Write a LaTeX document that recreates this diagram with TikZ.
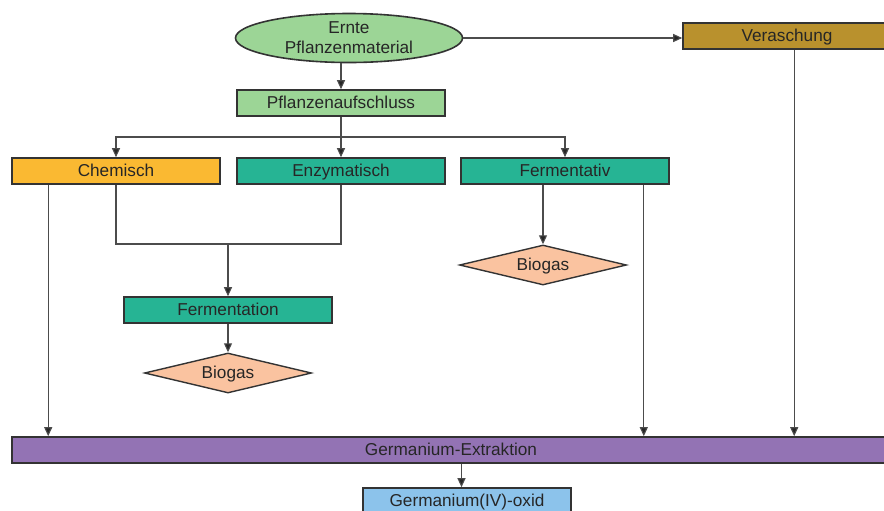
\documentclass[tikz,border=0pt]{standalone}
\usepackage{fontspec}
\setmainfont{Liberation Sans}
\usetikzlibrary{shapes.geometric,arrows.meta}
\definecolor{hellgruen}{RGB}{156,213,150}
\definecolor{orange}{RGB}{250,185,50}
\definecolor{tuerkis}{RGB}{38,180,148}
\definecolor{ocker}{RGB}{185,145,45}
\definecolor{lila}{RGB}{147,115,180}
\definecolor{hellblau}{RGB}{140,195,235}
\definecolor{pfirsich}{RGB}{250,195,160}
\begin{document}
\begin{tikzpicture}[x=0.5pt, y=-0.5pt,
        font=\fontsize{8.6}{10}\selectfont, text=black!85,
        >={Triangle[length=4.5pt,width=4pt,fill=black!85]},
        line/.style = {draw=black!70, line width=0.55pt},
        box/.style = {draw=black!80, line width=0.8pt, minimum width=104pt, minimum height=13pt, inner sep=0pt, text height=6.2pt, text depth=0.3pt},
        bio/.style = {diamond, draw=black!80, line width=0.7pt, fill=pfirsich, minimum width=83.5pt, minimum height=20pt, aspect=4, inner sep=0pt, text height=6.2pt, text depth=0.3pt}]
    \clip (0,0) rectangle (884,510);
    \useasboundingbox (0,0) rectangle (884,510);
    \node[ellipse, draw=black!80, line width=0.8pt, fill=hellgruen, minimum width=113.5pt, minimum height=24.5pt, inner sep=0pt, align=center] (ernte) at (349,38) {Ernte\\Pflanzenmaterial};
    \node[box, fill=hellgruen] (auf) at (341,103) {Pflanzenaufschluss};
    \node[box, fill=ocker] (vera) at (787,36) {Veraschung};
    \node[box, fill=orange] (chem) at (116,171) {Chemisch};
    \node[box, fill=tuerkis] (enz) at (341,171) {Enzymatisch};
    \node[box, fill=tuerkis] (ferm) at (565,171) {Fermentativ};
    \node[box, fill=tuerkis] (fmt) at (228,310) {Fermentation};
    \node[bio] (bio1) at (228,373) {Biogas};
    \node[bio] (bio2) at (543,265) {Biogas};
    \node[box, fill=lila, minimum width=439pt] (extr) at (451,450) {Germanium-Extraktion};
    \node[box, fill=hellblau] (oxid) at (467,501) {Germanium(IV)-oxid};
    \coordinate (split) at (341,137);
    \coordinate (join) at (228,244);
    % Aufschluss und Verzweigung
    \draw[line,->] (auf.north |- ernte.south) -- (auf);
    \draw[line,->] (ernte) -- (vera.west |- ernte);
    \draw[line] (auf) -- (split);
    \draw[line,->] (split) -| (chem);
    \draw[line,->] (split) -- (enz);
    \draw[line,->] (split) -| (ferm);
    % Fermentation
    \draw[line] (chem) |- (join);
    \draw[line] (enz) |- (join);
    \draw[line,->] (join) -- (fmt);
    \draw[line,->] (fmt) -- (bio1);
    \draw[line,->] ([xshift=-11pt]ferm.south) -- (bio2);
    % Extraktion
    \draw[line,->] ([xshift=18.5pt]chem.south west) -- ([xshift=18.5pt]chem.south west |- extr.north);
    \draw[line,->] ([xshift=-13pt]ferm.south east) -- ([xshift=-13pt]ferm.south east |- extr.north);
    \draw[line,->] ([xshift=56pt]vera.south west) -- ([xshift=56pt]vera.south west |- extr.north);
    \draw[line,->] ([xshift=-2.75pt]oxid.north |- extr.south) -- ([xshift=-2.75pt]oxid.north);
\end{tikzpicture}
\end{document}
